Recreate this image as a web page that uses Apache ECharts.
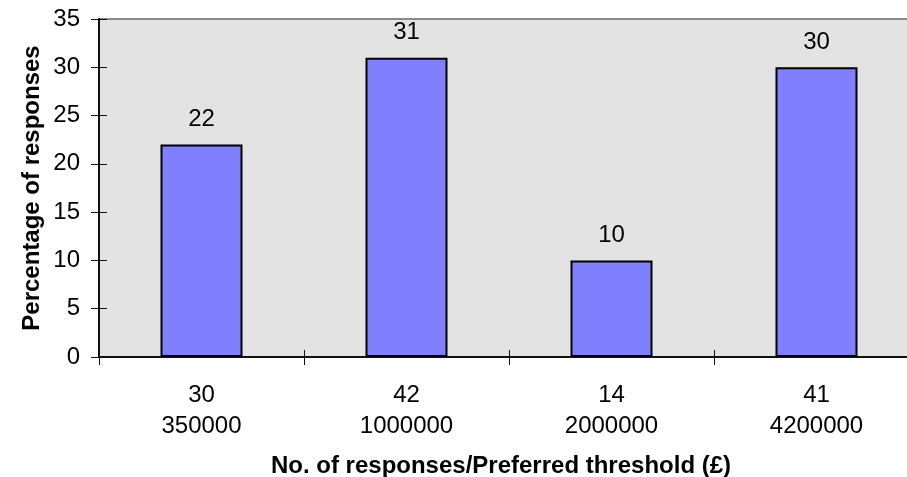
<!DOCTYPE html>
<html>
<head>
<meta charset="utf-8">
<script src="https://cdn.jsdelivr.net/npm/echarts@6/dist/echarts.min.js"></script>
<style>
  html, body { margin: 0; padding: 0; background: #fff; overflow: hidden; }
  /* the plot runs past the right edge of the window, so the canvas is wider than the view */
  #chart { width: 930px; height: 477px; }
</style>
</head>
<body>
<div id="chart"></div>
<script>
// Preferred threshold (£) for each group, with the number of responses per group
const thresholds = ['350000', '1000000', '2000000', '4200000'];
const responseCounts = [30, 42, 14, 41];
// Share of all responses (%)
const percentages = [22, 31, 10, 30];
const yTicks = { min: 0, max: 35, interval: 5 };

const FONT = 'Liberation Sans, Arial, sans-serif';
const chart = echarts.init(document.getElementById('chart'));

const categoryLabels = thresholds.map((t, i) => responseCounts[i] + '\n' + t);

chart.setOption({
  animation: false,
  graphic: [
    {
      type: 'text',
      x: 32, y: 188,
      rotation: Math.PI / 2,
      style: {
        text: 'Percentage of responses',
        font: 'bold 24px ' + FONT,
        fill: '#000',
        textAlign: 'center', textVerticalAlign: 'middle'
      }
    },
    {
      type: 'text',
      x: 501, y: 466,
      style: {
        text: 'No. of responses/Preferred threshold (£)',
        font: 'bold 24px ' + FONT,
        fill: '#000',
        textAlign: 'center', textVerticalAlign: 'middle'
      }
    }
  ],
  grid: {
    left: 99, top: 19, width: 820, height: 338,
    show: true, backgroundColor: '#e3e3e3',
    borderColor: '#8a8a8a', borderWidth: 2
  },
  xAxis: [
    {
      type: 'category',
      data: categoryLabels,
      axisLine: { lineStyle: { color: '#111', width: 2 } },
      axisTick: { show: true, length: 8, lineStyle: { color: '#111', width: 1 } },
      axisLabel: {
        margin: 23, fontFamily: FONT, fontSize: 24, color: '#000', lineHeight: 31
      }
    },
    {
      type: 'category',
      data: categoryLabels,
      position: 'bottom',
      axisLine: { show: false },
      axisTick: { show: true, inside: true, length: 7, lineStyle: { color: '#111', width: 1 } },
      axisLabel: { show: false }
    }
  ],
  yAxis: [
    {
      type: 'value',
      min: yTicks.min, max: yTicks.max, interval: yTicks.interval,
      axisLine: { show: true, lineStyle: { color: '#111', width: 2 } },
      axisTick: { show: true, length: 8, lineStyle: { color: '#111', width: 1 } },
      splitLine: { show: false },
      axisLabel: { margin: 19, fontFamily: FONT, fontSize: 24, color: '#000' }
    },
    {
      type: 'value',
      position: 'left',
      min: yTicks.min, max: yTicks.max, interval: yTicks.interval,
      axisLine: { show: false },
      axisTick: { show: true, inside: true, length: 8, lineStyle: { color: '#111', width: 1 } },
      splitLine: { show: false },
      axisLabel: { show: false }
    }
  ],
  series: [
    {
      type: 'bar',
      data: percentages,
      barWidth: '40%',
      itemStyle: { color: '#8080ff', borderColor: '#000', borderWidth: 2 },
      label: {
        show: true, position: 'top', distance: 13,
        fontFamily: FONT, fontSize: 24, color: '#000'
      }
    }
  ]
});
</script>
</body>
</html>
